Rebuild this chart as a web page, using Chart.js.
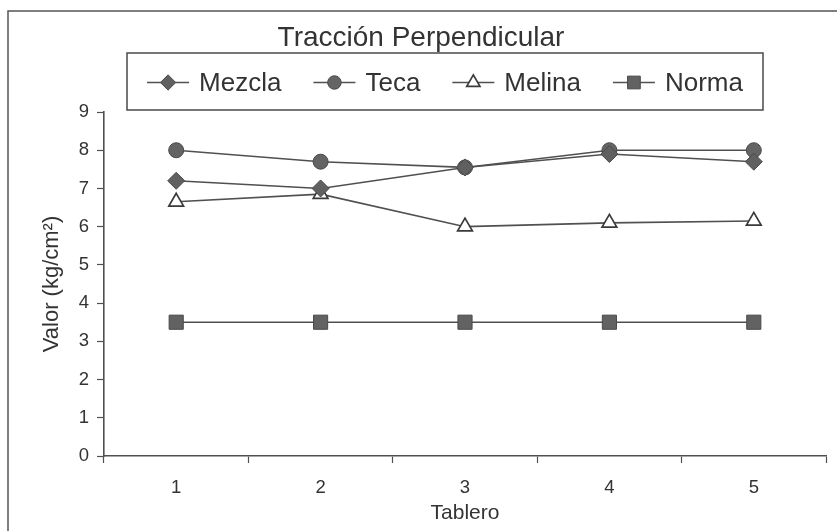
<!DOCTYPE html>
<html>
<head>
<meta charset="utf-8">
<script src="https://cdn.jsdelivr.net/npm/chart.js@4/dist/chart.umd.min.js"></script>
<style>
  html, body { margin: 0; padding: 0; background: #fff; }
  #wrap { width: 837px; height: 531px; }
</style>
</head>
<body>
<div id="wrap"><canvas id="c" width="837" height="531"></canvas></div>
<script>
// Tracción perpendicular por tablero (kg/cm²)
const tableros = ['1', '2', '3', '4', '5'];
const mezcla = [7.2, 7.0, 7.55, 7.9, 7.7];
const teca   = [8.0, 7.7, 7.55, 8.0, 8.0];
const melina = [6.65, 6.85, 6.0, 6.1, 6.15];
const norma  = [3.5, 3.5, 3.5, 3.5, 3.5];
const serieNombres = ['Mezcla', 'Teca', 'Melina', 'Norma'];
const tituloGrafico = 'Tracción Perpendicular';
const tituloX = 'Tablero';
const tituloY = 'Valor (kg/cm²)';

const FONT = '"Liberation Sans", Arial, sans-serif';
const INK = '#333333';
const LINE = '#505050';

const estilos = [
  { pointStyle: 'rectRot',  radius: 8.5, fill: '#606060', edge: '#4a4a4a', bw: 1 },
  { pointStyle: 'circle',   radius: 7.5, fill: '#646464', edge: '#4a4a4a', bw: 1 },
  { pointStyle: 'triangle', radius: 8.5, fill: '#ffffff', edge: '#3a3a3a', bw: 1.7 },
  { pointStyle: 'rect',     radius: 10,  fill: '#626262', edge: '#4a4a4a', bw: 1 }
];
const valores = [mezcla, teca, melina, norma];

const datasets = valores.map((v, i) => ({
  label: serieNombres[i],
  data: v,
  borderColor: LINE,
  borderWidth: 1.6,
  tension: 0,
  fill: false,
  pointStyle: estilos[i].pointStyle,
  pointRadius: estilos[i].radius,
  pointHoverRadius: estilos[i].radius,
  pointBackgroundColor: estilos[i].fill,
  pointBorderColor: estilos[i].edge,
  pointBorderWidth: estilos[i].bw
}));

// Frame, title and boxed key drawn around the plot
const marcoYLeyenda = {
  id: 'marcoYLeyenda',
  beforeDraw(chart) {
    const ctx = chart.ctx;
    ctx.save();
    ctx.fillStyle = '#ffffff';
    ctx.fillRect(0, 0, chart.width, chart.height);
    ctx.strokeStyle = '#555';
    ctx.lineWidth = 1.5;
    ctx.beginPath();
    ctx.moveTo(8, chart.height + 5);
    ctx.lineTo(8, 11);
    ctx.lineTo(chart.width + 5, 11);
    ctx.stroke();
    ctx.restore();
  },
  afterDraw(chart) {
    const ctx = chart.ctx;
    ctx.save();
    // title
    ctx.fillStyle = INK;
    ctx.font = '28px ' + FONT;
    ctx.textAlign = 'center';
    ctx.textBaseline = 'alphabetic';
    ctx.fillText(tituloGrafico, 421, 46);

    // key box
    const bx0 = 127, bx1 = 763, by0 = 53, by1 = 110;
    ctx.strokeStyle = '#4a4a4a';
    ctx.lineWidth = 1.5;
    ctx.strokeRect(bx0, by0, bx1 - bx0, by1 - by0);

    ctx.font = '26px ' + FONT;
    const stub = 42, gap = 10, between = 32;
    const widths = serieNombres.map(n => ctx.measureText(n).width);
    const total = widths.reduce((a, w) => a + stub + gap + w, 0) + between * (serieNombres.length - 1);
    let x = (bx0 + bx1) / 2 - total / 2;
    const cy = (by0 + by1) / 2 + 1;
    serieNombres.forEach((nombre, i) => {
      const e = estilos[i];
      ctx.strokeStyle = LINE;
      ctx.lineWidth = 1.5;
      ctx.beginPath();
      ctx.moveTo(x, cy);
      ctx.lineTo(x + stub, cy);
      ctx.stroke();
      ctx.fillStyle = e.fill;
      ctx.strokeStyle = e.edge;
      ctx.lineWidth = e.bw;
      Chart.helpers.drawPoint(ctx, { pointStyle: e.pointStyle, radius: e.radius * 0.9, rotation: 0, borderWidth: e.bw }, x + stub / 2, cy);
      ctx.fillStyle = INK;
      ctx.textAlign = 'left';
      ctx.textBaseline = 'middle';
      ctx.fillText(nombre, x + stub + gap, cy + 1);
      x += stub + gap + widths[i] + between;
    });
    ctx.restore();
  }
};

new Chart(document.getElementById('c'), {
  type: 'line',
  data: { labels: tableros, datasets },
  plugins: [marcoYLeyenda],
  options: {
    responsive: false,
    animation: false,
    layout: { padding: { top: 112, right: 4, bottom: 0, left: 0 } },
    plugins: {
      legend: { display: false },
      title: { display: false },
      tooltip: { enabled: false }
    },
    scales: {
      x: {
        type: 'category',
        offset: true,
        afterFit(scale) { scale.height = 75; },
        grid: {
          offset: true,
          drawOnChartArea: false,
          drawTicks: true,
          tickLength: 7,
          tickColor: LINE,
          tickWidth: 1.2
        },
        border: { display: true, color: LINE, width: 1.6 },
        ticks: { color: INK, font: { family: FONT, size: 18.5 }, padding: 14, maxRotation: 0 },
        title: {
          display: true,
          text: tituloX,
          color: INK,
          font: { family: FONT, size: 21 },
          padding: { top: 0, bottom: 5 }
        }
      },
      y: {
        min: 0,
        max: 9,
        afterFit(scale) { scale.width = 104; },
        grid: {
          drawOnChartArea: false,
          drawTicks: true,
          tickLength: 7,
          tickColor: LINE,
          tickWidth: 1.2
        },
        border: { display: true, color: LINE, width: 1.6 },
        ticks: { stepSize: 1, color: INK, font: { family: FONT, size: 18.5 }, padding: 8 },
        title: {
          display: true,
          text: tituloY,
          color: INK,
          font: { family: FONT, size: 22 },
          padding: { top: 39, bottom: 0 }
        }
      }
    }
  }
});
</script>
</body>
</html>
